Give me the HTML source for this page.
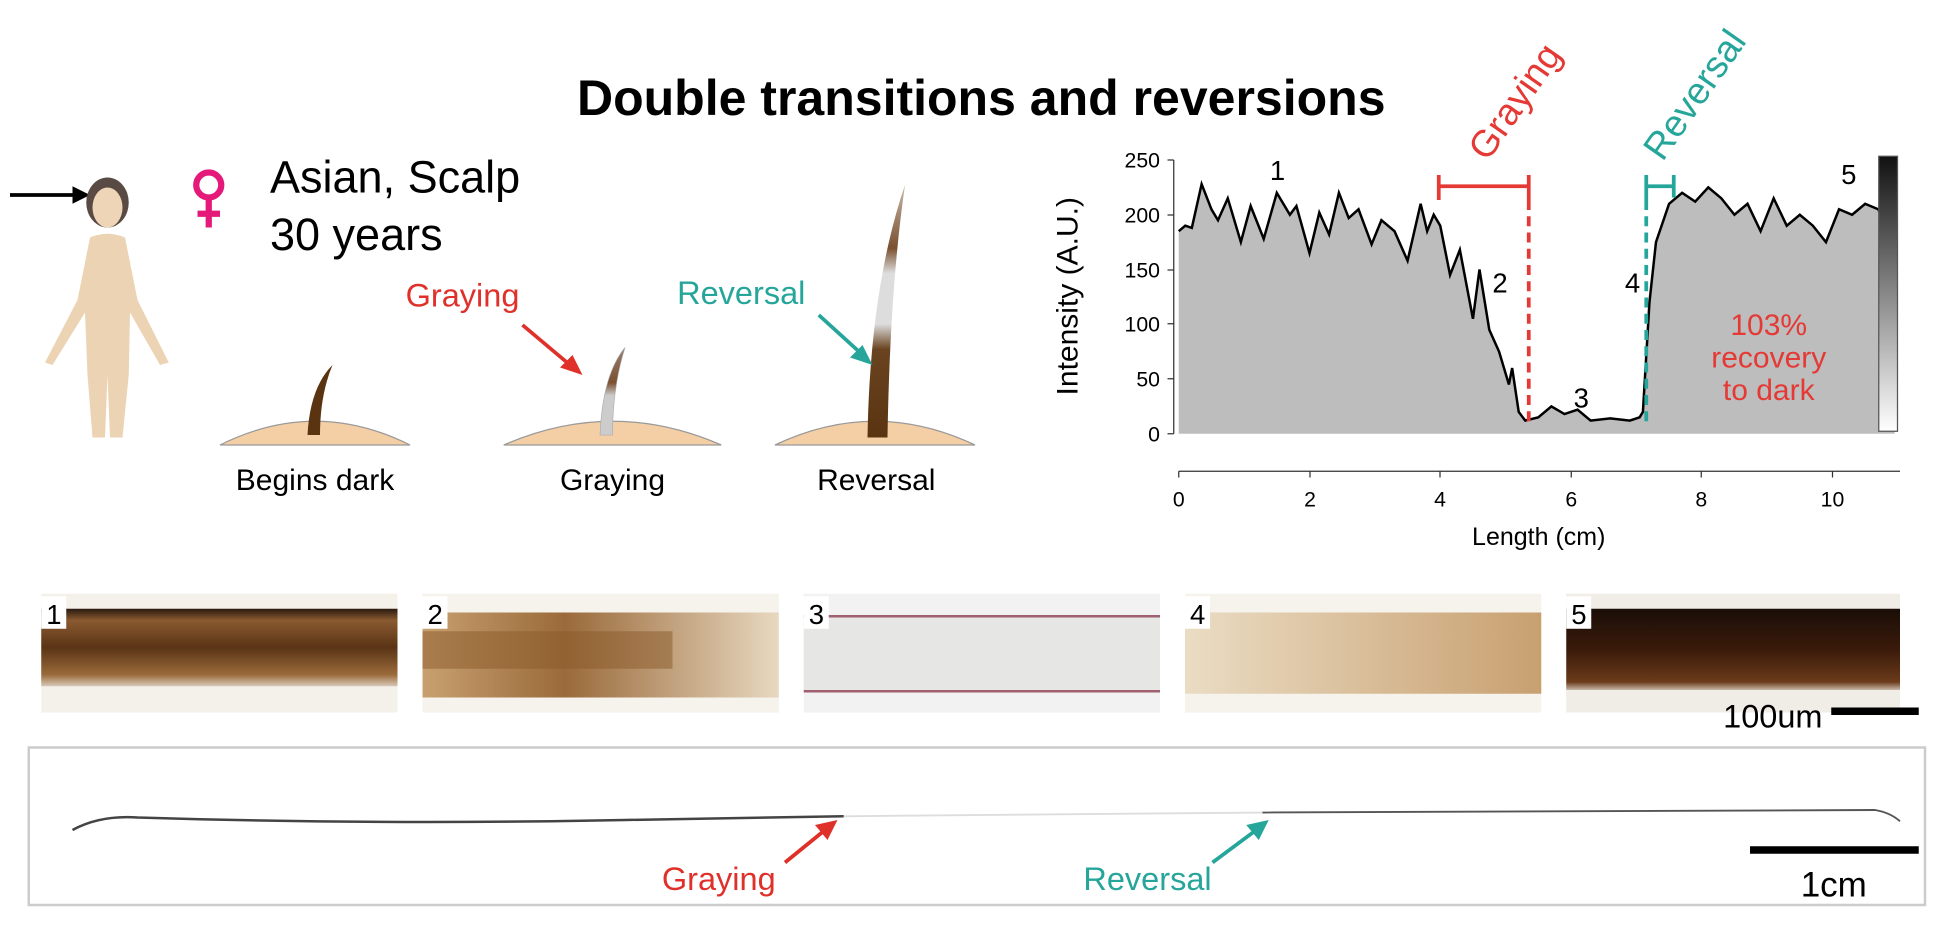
<!DOCTYPE html>
<html><head><meta charset="utf-8"><style>
body{margin:0;width:1960px;height:948px;background:#fff;overflow:hidden;font-family:"Liberation Sans",Arial,sans-serif;}
</style></head><body>
<svg width="1960" height="948" viewBox="0 0 1568 758.4" xmlns="http://www.w3.org/2000/svg" font-family="Liberation Sans, Arial, sans-serif" style="display:block">
<defs>
<linearGradient id="cb" x1="0" y1="0" x2="0" y2="1"><stop offset="0" stop-color="#111"/><stop offset="1" stop-color="#fff"/></linearGradient>
<linearGradient id="h1" x1="0" y1="0" x2="0" y2="1"><stop offset="0" stop-color="#2a1a10"/><stop offset="0.15" stop-color="#8a5a30"/><stop offset="0.5" stop-color="#5a3415"/><stop offset="0.85" stop-color="#9a6a3a"/><stop offset="1" stop-color="#d8c8b8"/></linearGradient>
<linearGradient id="h2" x1="0" y1="0" x2="1" y2="0"><stop offset="0" stop-color="#c8a070"/><stop offset="0.4" stop-color="#9a6a3a"/><stop offset="1" stop-color="#e8d8c0"/></linearGradient>
<linearGradient id="h4" x1="0" y1="0" x2="1" y2="0"><stop offset="0" stop-color="#eadcc4"/><stop offset="1" stop-color="#c8a070"/></linearGradient>
<linearGradient id="h5" x1="0" y1="0" x2="0" y2="1"><stop offset="0" stop-color="#1a0e08"/><stop offset="0.5" stop-color="#3a1a0a"/><stop offset="0.9" stop-color="#6a3a1a"/><stop offset="1" stop-color="#c8b8a8"/></linearGradient>
<linearGradient id="hr" x1="0" y1="1" x2="0" y2="0"><stop offset="0" stop-color="#5a3410"/><stop offset="0.35" stop-color="#6a4420"/><stop offset="0.45" stop-color="#ddd"/><stop offset="0.65" stop-color="#ddd"/><stop offset="0.75" stop-color="#7a5030"/><stop offset="1" stop-color="#c8b8a8"/></linearGradient>
<linearGradient id="hg" x1="0" y1="1" x2="0" y2="0"><stop offset="0" stop-color="#ccc"/><stop offset="0.45" stop-color="#ccc"/><stop offset="0.6" stop-color="#7a5030"/><stop offset="1" stop-color="#9a8070"/></linearGradient>
</defs>
<text x="785" y="92" text-anchor="middle" font-size="40" font-weight="bold">Double transitions and reversions</text>
<line x1="8" y1="156" x2="60" y2="156" stroke="#000" stroke-width="3"/>
<polygon points="58,149 72,156 58,163" fill="#000"/>
<ellipse cx="86" cy="162" rx="17" ry="20" fill="#5a4a44"/>
<ellipse cx="86" cy="166" rx="12" ry="16" fill="#eed5b8"/>
<path d="M72 190 Q86 184 100 190 L110 240 L135 290 L128 292 L104 250 L103 300 L98 350 L88 350 L86 300 L84 350 L74 350 L70 300 L68 250 L42 292 L36 290 L62 240 Z" fill="#ecd3b4"/>
<circle cx="167" cy="148" r="10" fill="none" stroke="#e5197a" stroke-width="5"/>
<line x1="167" y1="158" x2="167" y2="182" stroke="#e5197a" stroke-width="5"/>
<line x1="158" y1="171" x2="176" y2="171" stroke="#e5197a" stroke-width="5"/>
<text x="216" y="154" font-size="36">Asian, Scalp</text>
<text x="216" y="200" font-size="36">30 years</text>
<path d="M176 356 Q252 318 328 356 Z" fill="#f4cfa5" stroke="#999"/>
<path d="M246 348 Q248 310 266 292 Q256 316 256 348 Z" fill="#5a3410"/>
<text x="252" y="392" text-anchor="middle" font-size="24">Begins dark</text>
<path d="M403 356 Q490 318 577 356 Z" fill="#f4cfa5" stroke="#999"/>
<path d="M480 348 Q482 300 500 278 Q490 310 490 348 Z" fill="url(#hg)" stroke="#aaa" stroke-width="0.5"/>
<text x="490" y="392" text-anchor="middle" font-size="24">Graying</text>
<text x="370" y="245" text-anchor="middle" font-size="26" fill="#e0302a">Graying</text>
<line x1="418" y1="260" x2="456" y2="292" stroke="#e0302a" stroke-width="3"/>
<polygon points="448,294 466,300 458,284" fill="#e0302a"/>
<path d="M620 356 Q700 318 780 356 Z" fill="#f4cfa5" stroke="#999"/>
<path d="M694 350 Q696 230 724 148 Q712 230 710 350 Z" fill="url(#hr)"/>
<text x="701" y="392" text-anchor="middle" font-size="24">Reversal</text>
<text x="593" y="243" text-anchor="middle" font-size="26" fill="#26a69a">Reversal</text>
<line x1="655" y1="252" x2="688" y2="282" stroke="#26a69a" stroke-width="3"/>
<polygon points="680,286 698,292 690,276" fill="#26a69a"/>
<g transform="translate(943,347) scale(52.3,-0.876)">
<path d="M0 0 L0 185 0.1 190 0.2 188 0.35 228 0.5 205 0.6 195 0.75 215 0.95 175 1.1 208 1.3 178 1.5 220 1.7 200 1.8 208 2.0 165 2.15 202 2.3 182 2.45 220 2.6 197 2.75 205 2.95 173 3.1 195 3.3 185 3.5 158 3.7 210 3.8 185 3.9 200 4.0 190 4.15 145 4.3 168 4.5 105 4.6 150 4.75 95 4.9 75 5.05 45 5.1 60 5.2 20 5.3 12 5.5 15 5.7 25 5.9 18 6.1 22 6.3 12 6.6 14 6.9 12 7.05 15 7.1 20 7.2 120 7.3 175 7.5 210 7.7 220 7.9 212 8.1 225 8.3 215 8.5 200 8.7 210 8.9 185 9.1 215 9.3 190 9.5 200 9.7 190 9.9 175 10.1 205 10.3 200 10.5 210 10.7 205 10.85 185 10.95 190 L10.95 0 Z" fill="#bdbdbd"/>
<path d="M0 185 0.1 190 0.2 188 0.35 228 0.5 205 0.6 195 0.75 215 0.95 175 1.1 208 1.3 178 1.5 220 1.7 200 1.8 208 2.0 165 2.15 202 2.3 182 2.45 220 2.6 197 2.75 205 2.95 173 3.1 195 3.3 185 3.5 158 3.7 210 3.8 185 3.9 200 4.0 190 4.15 145 4.3 168 4.5 105 4.6 150 4.75 95 4.9 75 5.05 45 5.1 60 5.2 20 5.3 12 5.5 15 5.7 25 5.9 18 6.1 22 6.3 12 6.6 14 6.9 12 7.05 15 7.1 20 7.2 120 7.3 175 7.5 210 7.7 220 7.9 212 8.1 225 8.3 215 8.5 200 8.7 210 8.9 185 9.1 215 9.3 190 9.5 200 9.7 190 9.9 175 10.1 205 10.3 200 10.5 210 10.7 205 10.85 185 10.95 190" fill="none" stroke="#000" stroke-width="2.5" vector-effect="non-scaling-stroke"/>
</g>
<g stroke="#333" stroke-width="1">
<line x1="939" y1="128" x2="939" y2="347"/>
<line x1="934" y1="128" x2="939" y2="128"/><line x1="934" y1="172" x2="939" y2="172"/><line x1="934" y1="216" x2="939" y2="216"/><line x1="934" y1="259" x2="939" y2="259"/><line x1="934" y1="303" x2="939" y2="303"/><line x1="934" y1="347" x2="939" y2="347"/>
<line x1="943" y1="377" x2="1520" y2="377"/>
<line x1="943" y1="377" x2="943" y2="382"/><line x1="1048" y1="377" x2="1048" y2="382"/><line x1="1152" y1="377" x2="1152" y2="382"/><line x1="1257" y1="377" x2="1257" y2="382"/><line x1="1361" y1="377" x2="1361" y2="382"/><line x1="1466" y1="377" x2="1466" y2="382"/>
</g>
<g font-size="17" text-anchor="end">
<text x="928" y="134">250</text><text x="928" y="178">200</text><text x="928" y="222">150</text><text x="928" y="265">100</text><text x="928" y="309">50</text><text x="928" y="353">0</text>
</g>
<g font-size="17" text-anchor="middle">
<text x="943" y="405">0</text><text x="1048" y="405">2</text><text x="1152" y="405">4</text><text x="1257" y="405">6</text><text x="1361" y="405">8</text><text x="1466" y="405">10</text>
</g>
<text x="1231" y="436" text-anchor="middle" font-size="20">Length (cm)</text>
<text transform="translate(862,237) rotate(-90)" text-anchor="middle" font-size="24">Intensity (A.U.)</text>
<g font-size="22" text-anchor="middle"><text x="1022" y="144">1</text><text x="1200" y="234">2</text><text x="1265" y="326">3</text><text x="1306" y="234">4</text><text x="1479" y="147">5</text></g>
<rect x="1503" y="125" width="15" height="220" fill="url(#cb)" stroke="#555"/>
<line x1="1151" y1="149" x2="1223" y2="149" stroke="#e53935" stroke-width="3"/>
<line x1="1151" y1="140" x2="1151" y2="160" stroke="#e53935" stroke-width="3"/>
<line x1="1223" y1="140" x2="1223" y2="160" stroke="#e53935" stroke-width="3"/>
<line x1="1223" y1="160" x2="1223" y2="337" stroke="#e53935" stroke-width="3" stroke-dasharray="8,5"/>
<text transform="translate(1190,130) rotate(-55)" font-size="30" fill="#e53935">Graying</text>
<line x1="1317" y1="149" x2="1339" y2="149" stroke="#26a69a" stroke-width="3"/>
<line x1="1317" y1="140" x2="1317" y2="160" stroke="#26a69a" stroke-width="3"/>
<line x1="1339" y1="140" x2="1339" y2="158" stroke="#26a69a" stroke-width="3"/>
<line x1="1317" y1="160" x2="1317" y2="337" stroke="#26a69a" stroke-width="3" stroke-dasharray="8,5"/>
<text transform="translate(1330,130) rotate(-55)" font-size="30" fill="#26a69a">Reversal</text>
<g font-size="24" fill="#e53935" text-anchor="middle"><text x="1415" y="268">103%</text><text x="1415" y="294">recovery</text><text x="1415" y="320">to dark</text></g>
<rect x="33" y="475" width="285" height="95" fill="#f4f0ea"/>
<rect x="33" y="487" width="285" height="62" fill="url(#h1)"/>
<rect x="338" y="475" width="285" height="95" fill="#f6f2ec"/>
<rect x="338" y="490" width="285" height="68" fill="url(#h2)"/>
<rect x="338" y="505" width="200" height="30" fill="#8a5a2a" opacity="0.5"/>
<rect x="643" y="475" width="285" height="95" fill="#f2f2f2"/>
<rect x="643" y="492" width="285" height="62" fill="#e6e6e4"/>
<line x1="643" y1="493" x2="928" y2="493" stroke="#a06070" stroke-width="2"/>
<line x1="643" y1="553" x2="928" y2="553" stroke="#a06070" stroke-width="2"/>
<rect x="948" y="475" width="285" height="95" fill="#f6f2ec"/>
<rect x="948" y="490" width="285" height="65" fill="url(#h4)"/>
<rect x="1253" y="475" width="267" height="95" fill="#f0ece6"/>
<rect x="1253" y="487" width="267" height="65" fill="url(#h5)"/>
<g font-size="22"><rect x="33" y="477" width="20" height="26" fill="#fff"/><text x="37" y="499">1</text>
<rect x="338" y="477" width="20" height="26" fill="#fff"/><text x="342" y="499">2</text>
<rect x="643" y="477" width="20" height="26" fill="#fff"/><text x="647" y="499">3</text>
<rect x="948" y="477" width="20" height="26" fill="#fff"/><text x="952" y="499">4</text>
<rect x="1253" y="477" width="20" height="26" fill="#fff"/><text x="1257" y="499">5</text></g>
<text x="1458" y="582" text-anchor="end" font-size="26">100um</text>
<rect x="1465" y="566" width="70" height="6" fill="#000"/>
<rect x="23" y="598" width="1517" height="126" fill="#fff" stroke="#ccc" stroke-width="2"/>
<path d="M58 664 Q80 652 110 654 Q300 660 500 656 L675 653" fill="none" stroke="#444" stroke-width="2"/>
<path d="M675 653 L1010 650" fill="none" stroke="#ddd" stroke-width="1.5"/>
<path d="M1010 650 L1500 648 Q1512 650 1520 657" fill="none" stroke="#555" stroke-width="1.5"/>
<text x="575" y="712" text-anchor="middle" font-size="26" fill="#e0302a">Graying</text>
<line x1="628" y1="690" x2="660" y2="664" stroke="#e0302a" stroke-width="3"/>
<polygon points="652,660 670,656 662,672" fill="#e0302a"/>
<text x="918" y="712" text-anchor="middle" font-size="26" fill="#26a69a">Reversal</text>
<line x1="970" y1="690" x2="1005" y2="664" stroke="#26a69a" stroke-width="3"/>
<polygon points="997,660 1015,656 1007,672" fill="#26a69a"/>
<rect x="1400" y="677" width="135" height="6" fill="#000"/>
<text x="1467" y="717" text-anchor="middle" font-size="28">1cm</text>
</svg>
</body></html>
